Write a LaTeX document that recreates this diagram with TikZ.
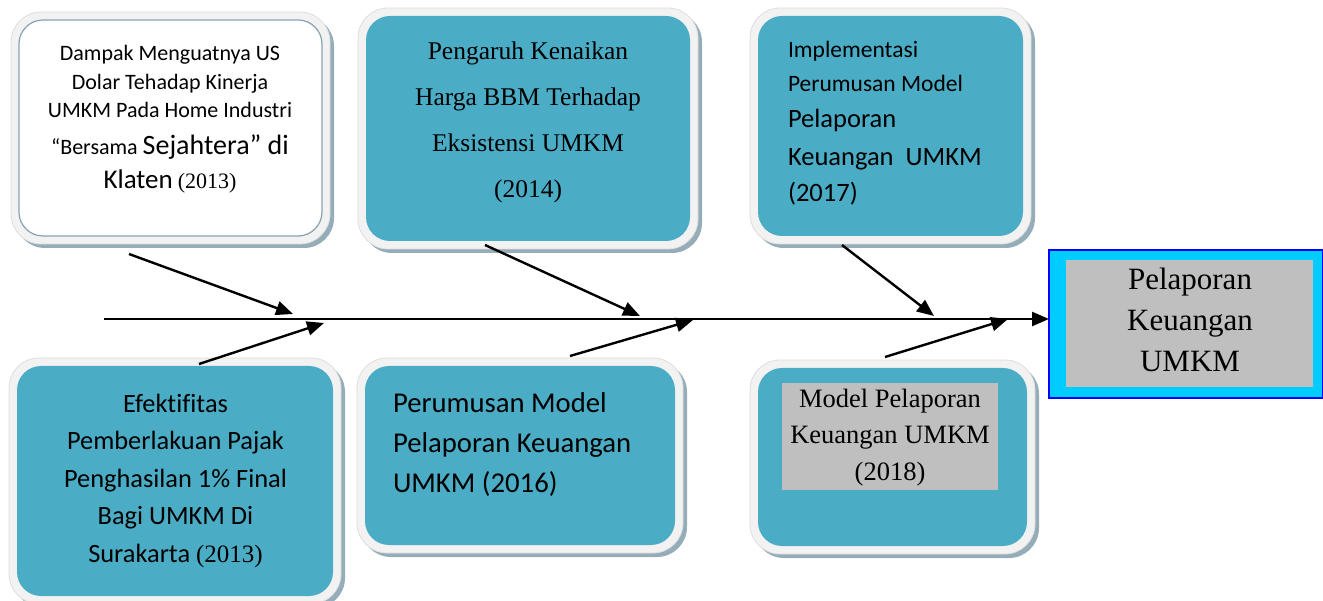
\documentclass[tikz,border=0pt]{standalone}
\usepackage{fontspec}
\newfontfamily\calfont[Ligatures=NoCommon]{Carlito}
\newfontfamily\tnrfont{Liberation Serif}
\usetikzlibrary{arrows.meta}
\definecolor{tealbox}{HTML}{4BACC6}
\definecolor{rimc}{HTML}{F2F2F2}
\definecolor{rimline}{HTML}{DEDEDE}
\definecolor{shadc}{HTML}{94ADB8}
\definecolor{innerline}{HTML}{88A3B0}
\definecolor{cyanbox}{HTML}{00CCFF}
\definecolor{grayfill}{HTML}{BFBFBF}
\definecolor{bluebord}{HTML}{0000FF}
\tikzset{
  boxshadow/.style={fill=shadc, rounded corners=30pt},
  boxrim/.style={fill=rimc, draw=rimline, line width=0.8pt, rounded corners=30pt},
  boxinner/.style={rectangle, rounded corners=24pt, inner sep=0pt, outer sep=0pt},
  tealinner/.style={boxinner, fill=tealbox},
  whiteinner/.style={boxinner, fill=white, draw=innerline, line width=1.2pt},
  bodytext/.style={inner sep=0pt, outer sep=0pt, text=black},
  fisharrow/.style={line width=2.4pt, -{Triangle[length=17pt,width=14pt]}},
  grayrect/.style={rectangle, fill=grayfill, inner sep=0pt, outer sep=0pt},
}
\newcommand{\rimbox}[6]{%
  \fill[boxshadow] ({#2-4},{#3-4}) rectangle ({#4+12},{#5+12});
  \filldraw[boxrim] ({#2-8},{#3-8}) rectangle ({#4+8},{#5+8});
  \node[#6, minimum width={#4-#2}, minimum height={#5-#3}] (#1) at ({(#2+#4)/2},{(#3+#5)/2}) {};
}
\begin{document}
\begin{tikzpicture}[x=1pt,y=-1pt]
\useasboundingbox (0,0) rectangle (1323,601);

% boxes
\rimbox{b1}{19}{20}{322}{236}{whiteinner}
\rimbox{b2}{366}{16}{690}{241}{tealinner}
\rimbox{b3}{758}{16}{1023}{236}{tealinner}
\rimbox{b4}{17}{366}{333}{596}{tealinner}
\rimbox{b5}{365}{366}{675}{545}{tealinner}
\rimbox{b6}{758}{368}{1027}{546}{tealinner}
\node[grayrect, minimum width=216, minimum height=107] (g6) at (890,436.5) {};

% final box
\node[rectangle, fill=cyanbox, draw=bluebord, line width=2.2pt, minimum width=274, minimum height=148, outer sep=0pt] (fin) at (1186,324) {};
\node[grayrect, minimum width=247, minimum height=127] (fg) at (1189.5,323.5) {};

% texts
\node[bodytext, anchor=north, align=center, font=\calfont\fontsize{22}{28.5}\selectfont] (t1) at (170,{61-24})
 {\rule{0pt}{24pt}Dampak Menguatnya US\\Dolar Tehadap Kinerja\\UMKM Pada Home Industri\\[8pt]“Bersama {\fontsize{28}{28}\selectfont Sejahtera” di}\\[6pt]{\fontsize{27}{27}\selectfont Klaten} {\tnrfont (2013)}};

\node[bodytext, anchor=north, align=center, font=\tnrfont\fontsize{25.5}{45.7}\selectfont] (t2) at (528,{60-24})
 {\rule{0pt}{24pt}Pengaruh Kenaikan\\Harga BBM Terhadap\\Eksistensi UMKM\\(2014)};

\node[bodytext, anchor=north west, align=left, font=\calfont\fontsize{26.5}{36}\selectfont] (t3) at (788,{58-24})
 {\rule{0pt}{24pt}{\fontsize{23.5}{23.5}\selectfont Implementasi}\\[-2pt]{\fontsize{23.5}{23.5}\selectfont Perumusan Model}\\Pelaporan\\[2pt]Keuangan~~UMKM\\(2017)};

\node[bodytext, anchor=north, align=center, font=\calfont\fontsize{26.4}{37.5}\selectfont] (t4) at (175.5,{412-24})
 {\rule{0pt}{24pt}Efektifitas\\Pemberlakuan Pajak\\Penghasilan 1\% Final\\Bagi UMKM Di\\Surakarta {\tnrfont\fontsize{25}{25}\selectfont (2013)}};

\node[bodytext, anchor=north west, align=left, font=\calfont\fontsize{28.7}{40.5}\selectfont] (t5) at (393,{412-24})
 {\rule{0pt}{24pt}Perumusan Model\\Pelaporan Keuangan\\UMKM (2016)};

\node[bodytext, anchor=north, align=center, font=\tnrfont\fontsize{26.5}{36.5}\selectfont] (t6) at (890,{407-24})
 {\rule{0pt}{24pt}Model Pelaporan\\Keuangan UMKM\\(2018)};

\node[bodytext, anchor=north, align=center, font=\tnrfont\fontsize{31}{41}\selectfont] (t7) at (1190,{290-24})
 {\rule{0pt}{24pt}Pelaporan\\Keuangan\\UMKM};

% spine and arrows
\coordinate (s0) at (104,319);
\draw[fisharrow] (s0) -- (s0 -| fin.west);

\coordinate (a1s) at (129,254);  \coordinate (a1e) at (293,314);
\coordinate (a2s) at (199,364);  \coordinate (a2e) at (324,323);
\coordinate (a3s) at (485,245);  \coordinate (a3e) at (640,316);
\coordinate (a4s) at (570,356);  \coordinate (a4e) at (693,320);
\coordinate (a5s) at (842,245);  \coordinate (a5e) at (934,316);
\coordinate (a6s) at (885,357);  \coordinate (a6e) at (1008,319);
\foreach \i in {1,...,6} { \draw[fisharrow] (a\i s) -- (a\i e); }
\end{tikzpicture}
\end{document}
